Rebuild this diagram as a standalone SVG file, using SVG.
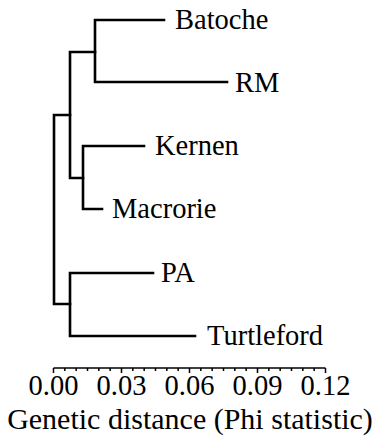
<svg xmlns="http://www.w3.org/2000/svg" width="377" height="438" viewBox="0 0 377 438">
<style>
.br{fill:none;stroke:#000;stroke-width:2.6;stroke-linecap:square;stroke-linejoin:miter}
.ax{fill:none;stroke:#000;stroke-width:1.5}
</style>
<rect width="377" height="438" fill="#fff"/>
<g id="connectors">
<path class="br" d="M70,115 H54 V304 H70"/>
<path class="br" d="M95,52 H70 V178 H83"/>
<path class="br" d="M164,20 H95 V82 H227"/>
<path class="br" d="M144,146 H83 V209 H102"/>
<path class="br" d="M153,273 H70 V336 H195"/>
</g>
<g font-family="Liberation Serif, Times New Roman, serif" font-size="28.5" fill="#000">
<g id="Batoche"><text x="175" y="29">Batoche</text></g>
<g id="RM"><text x="235" y="92">RM</text></g>
<g id="Kernen"><text x="155" y="155">Kernen</text></g>
<g id="Macrorie"><text x="112" y="218">Macrorie</text></g>
<g id="PA"><text x="161" y="282">PA</text></g>
<g id="Turtleford"><text x="207" y="345">Turtleford</text></g>
</g>
<g id="axis" font-family="Liberation Serif, Times New Roman, serif" fill="#000">
<path class="ax" d="M53.5,368 H325.5"/>
<path class="ax" d="M53.5,368 v5 M121.5,368 v5 M189.5,368 v5 M257.5,368 v5 M325.5,368 v5"/>
<path class="ax" d="M64.83,368 v3 M76.17,368 v3 M87.5,368 v3 M98.83,368 v3 M110.17,368 v3 M132.83,368 v3 M144.17,368 v3 M155.5,368 v3 M166.83,368 v3 M178.17,368 v3 M200.83,368 v3 M212.17,368 v3 M223.5,368 v3 M234.83,368 v3 M246.17,368 v3 M268.83,368 v3 M280.17,368 v3 M291.5,368 v3 M302.83,368 v3 M314.17,368 v3"/>
<g font-size="28.5" text-anchor="middle">
<text x="53.5" y="395">0.00</text>
<text x="121.5" y="395">0.03</text>
<text x="189.5" y="395">0.06</text>
<text x="257.5" y="395">0.09</text>
<text x="325.5" y="395">0.12</text>
</g>
<text x="190" y="429" font-size="30" text-anchor="middle">Genetic distance (Phi statistic)</text>
</g>
</svg>
